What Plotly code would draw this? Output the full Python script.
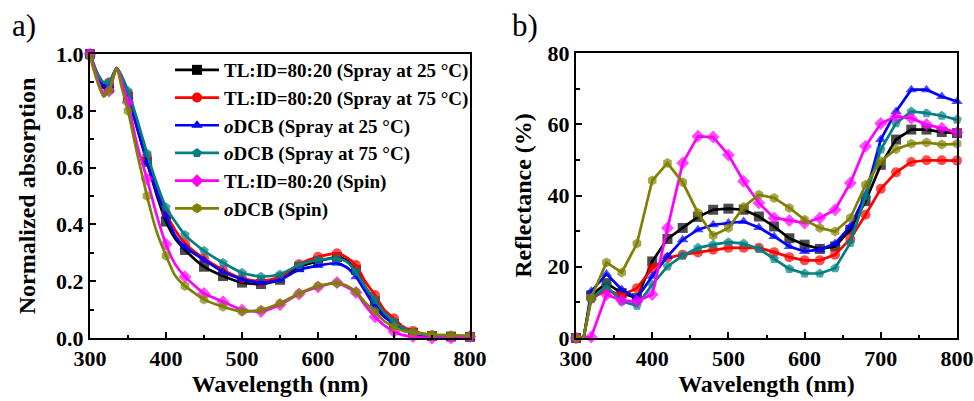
import plotly.graph_objects as go

# ---------------- data: a) normalized absorption ----------------
x_abs = [300, 310, 318, 325, 335, 342, 350, 362, 375, 387, 400, 412, 425, 450, 475, 500,
         525, 550, 575, 600, 625, 637, 650, 662, 675, 687, 700, 712, 725, 750, 775, 800]
abs_tl_spray25 = [1.0, 0.92, 0.88, 0.88, 0.95, 0.91, 0.85, 0.74, 0.62, 0.51, 0.41, 0.35, 0.31, 0.251, 0.218, 0.195,
                  0.19, 0.205, 0.25, 0.27, 0.285, 0.275, 0.24, 0.18, 0.13, 0.08, 0.05, 0.03, 0.018, 0.007, 0.005, 0.004]
abs_tl_spray75 = [1.0, 0.93, 0.90, 0.90, 0.95, 0.92, 0.86, 0.76, 0.64, 0.53, 0.44, 0.38, 0.333, 0.28, 0.24, 0.21,
                  0.20, 0.215, 0.26, 0.286, 0.298, 0.285, 0.257, 0.20, 0.151, 0.10, 0.069, 0.04, 0.025, 0.008, 0.005, 0.004]
abs_od_spray25 = [1.0, 0.92, 0.89, 0.89, 0.95, 0.91, 0.85, 0.74, 0.62, 0.52, 0.43, 0.36, 0.32, 0.275, 0.233, 0.207,
                  0.195, 0.205, 0.24, 0.255, 0.263, 0.25, 0.216, 0.165, 0.11, 0.075, 0.05, 0.03, 0.015, 0.006, 0.004, 0.003]
abs_od_spray75 = [1.0, 0.93, 0.90, 0.90, 0.95, 0.92, 0.87, 0.77, 0.65, 0.55, 0.46, 0.41, 0.363, 0.307, 0.265, 0.23,
                  0.216, 0.224, 0.257, 0.275, 0.28, 0.27, 0.233, 0.18, 0.134, 0.09, 0.057, 0.035, 0.02, 0.008, 0.005, 0.004]
abs_tl_spin = [1.0, 0.91, 0.86, 0.87, 0.95, 0.90, 0.83, 0.68, 0.56, 0.44, 0.33, 0.26, 0.216, 0.157, 0.128, 0.099,
               0.093, 0.117, 0.155, 0.18, 0.195, 0.18, 0.16, 0.115, 0.075, 0.045, 0.022, 0.01, 0.005, 0.0, 0.0, 0.005]
abs_od_spin = [0.99, 0.90, 0.85, 0.87, 0.95, 0.88, 0.80, 0.65, 0.50, 0.38, 0.29, 0.22, 0.183, 0.136, 0.11, 0.093,
               0.099, 0.122, 0.157, 0.183, 0.193, 0.185, 0.163, 0.125, 0.093, 0.06, 0.04, 0.025, 0.02, 0.012, 0.01, 0.008]

# ---------------- data: b) reflectance ----------------
x_ref = [300, 310, 320, 340, 360, 380, 400, 420, 440, 460, 480, 500, 520, 540, 560, 580,
         600, 620, 640, 660, 680, 700, 720, 740, 760, 780, 800]
ref_tl_spray25 = [0, 0, 12, 15.4, 12.6, 11.2, 21.5, 27.8, 30.9, 34, 36, 36.3, 36, 34.1, 31.3, 28,
                  26.2, 25, 25.7, 30.4, 38.4, 48.6, 55.7, 58.5, 58.5, 57.8, 57.5]
ref_tl_spray75 = [0, 0, 11, 13.5, 12, 14, 19.6, 22.5, 23.4, 24, 24.8, 25.3, 25.3, 25.3, 24.1, 22.7,
                  21.8, 21.8, 23.4, 27.8, 34.6, 41.9, 46.5, 49.4, 49.9, 49.9, 49.8]
ref_od_spray25 = [0, 0, 13.1, 18, 13.6, 11.2, 17.3, 22.9, 27.6, 30.4, 31.8, 32.3, 32.7, 31, 28.5, 25.7,
                  24.3, 24.8, 26.5, 31.3, 40.2, 55.7, 63.6, 69.7, 69.7, 67.8, 66.4]
ref_od_spray75 = [0, 0, 11, 14.5, 10.3, 9.1, 15, 20.1, 23.1, 25.3, 26.2, 26.9, 26.5, 25, 22.2, 19.4,
                  18.1, 18.1, 19.6, 26.7, 39.8, 52.9, 60.3, 63.6, 63.1, 62.4, 61.3]
ref_tl_spin = [0, 0, 0.3, 12.2, 10.5, 10.3, 12.2, 30.9, 49.1, 56.6, 56.4, 51.4, 44, 37.9, 33.7, 33,
               32.3, 33.7, 36, 43.5, 53.8, 60.2, 62.2, 61.7, 59.9, 58.9, 57.7]
ref_od_spin = [0, 0, 11.4, 21.2, 18.4, 26.5, 44.2, 49.1, 43.7, 35.1, 28.8, 30.9, 36.8, 40.2, 39.3, 36.5,
               33.2, 30.9, 29.9, 33.7, 43, 49.6, 53, 54.5, 54.9, 54.3, 54.5]

names = ["TL:ID=80:20 (Spray at 25 °C)", "TL:ID=80:20 (Spray at 75 °C)",
         "<i>o</i>DCB (Spray at 25 °C)", "<i>o</i>DCB (Spray at 75 °C)",
         "TL:ID=80:20 (Spin)", "<i>o</i>DCB (Spin)"]
colors = ["#000000", "#FF0000", "#0000FF", "#008080", "#FF00FF", "#808000"]
symbols = ["square", "circle", "triangle-up", "pentagon", "diamond", "hexagon"]
abs_series = [abs_tl_spray25, abs_tl_spray75, abs_od_spray25, abs_od_spray75, abs_tl_spin, abs_od_spin]
ref_series = [ref_tl_spray25, ref_tl_spray75, ref_od_spray25, ref_od_spray75, ref_tl_spin, ref_od_spin]

MS = 10
FONT = "Liberation Serif"

fig = go.Figure()

abs_sizes = [MS if x % 25 == 0 else 0 for x in x_abs]
ref_sizes = [MS if x % 20 == 0 else 0 for x in x_ref]

for name, c, s, ya, yr in zip(names, colors, symbols, abs_series, ref_series):
    fig.add_trace(go.Scatter(x=x_abs, y=ya, mode="lines+markers", showlegend=False,
                             line=dict(color=c, width=2.7, shape="spline", smoothing=0.6),
                             marker=dict(symbol=s, size=abs_sizes, color=c, line=dict(width=0)),
                             cliponaxis=False, xaxis="x", yaxis="y"))
    fig.add_trace(go.Scatter(x=x_ref, y=yr, mode="lines+markers", showlegend=False,
                             line=dict(color=c, width=2.7),
                             marker=dict(symbol=s, size=ref_sizes, color=c, line=dict(width=0)),
                             cliponaxis=False, xaxis="x2", yaxis="y2"))
    # legend entry
    fig.add_trace(go.Scatter(x=[None], y=[None], mode="lines+markers", name=name,
                             line=dict(color=c, width=2.7),
                             marker=dict(symbol=s, size=MS, color=c, line=dict(width=0)),
                             xaxis="x", yaxis="y"))

axis_common = dict(showline=True, linecolor="black", linewidth=2, mirror=True,
                   ticks="inside", ticklen=6, tickwidth=1.5, tickcolor="black",
                   showgrid=False, zeroline=False, automargin=False,
                   tickfont=dict(family=FONT, size=22, color="black", weight="bold"),
                   minor=dict(ticks="inside", ticklen=3.5, tickwidth=1.5, tickcolor="black"))

title_font = dict(family=FONT, size=24, color="black", weight="bold")

fig.update_layout(
    width=974, height=401,
    margin=dict(l=0, r=0, t=0, b=0, autoexpand=False),
    plot_bgcolor="white", paper_bgcolor="white",
    xaxis=dict(domain=[90 / 974, 470 / 974], range=[300, 800], dtick=100, tick0=300,
               minor_dtick=50, anchor="y",
               title=dict(text="Wavelength (nm)", font=title_font, standoff=4), **axis_common),
    yaxis=dict(domain=[1 - 338 / 401, 1 - 54 / 401], range=[0, 1.0], dtick=0.2, tickformat=".1f",
               minor_dtick=0.1, anchor="x",
               title=dict(text="Normalized absorption", font=title_font, standoff=14),
               **axis_common),
    xaxis2=dict(domain=[576 / 974, 957 / 974], range=[300, 800], dtick=100, tick0=300,
                minor_dtick=50, anchor="y2",
                title=dict(text="Wavelength (nm)", font=title_font, standoff=4), **axis_common),
    yaxis2=dict(domain=[1 - 338 / 401, 1 - 53 / 401], range=[0, 80], dtick=20,
                minor_dtick=10, anchor="x2",
                title=dict(text="Reflectance (%)", font=title_font, standoff=9),
                **axis_common),
    legend=dict(x=170 / 974, y=1 - 51 / 401, xanchor="left", yanchor="top",
                bgcolor="rgba(0,0,0,0)", borderwidth=0, itemwidth=44,
                font=dict(family=FONT, size=19, color="black", weight="bold"),
                tracegroupgap=0),
    annotations=[
        dict(text="a)", x=10 / 974, y=1 - 6 / 401, xref="paper", yref="paper",
             xanchor="left", yanchor="top", showarrow=False,
             font=dict(family=FONT, size=31, color="black")),
        dict(text="b)", x=510 / 974, y=1 - 6 / 401, xref="paper", yref="paper",
             xanchor="left", yanchor="top", showarrow=False,
             font=dict(family=FONT, size=31, color="black")),
    ],
)

fig.write_html("out.html")
